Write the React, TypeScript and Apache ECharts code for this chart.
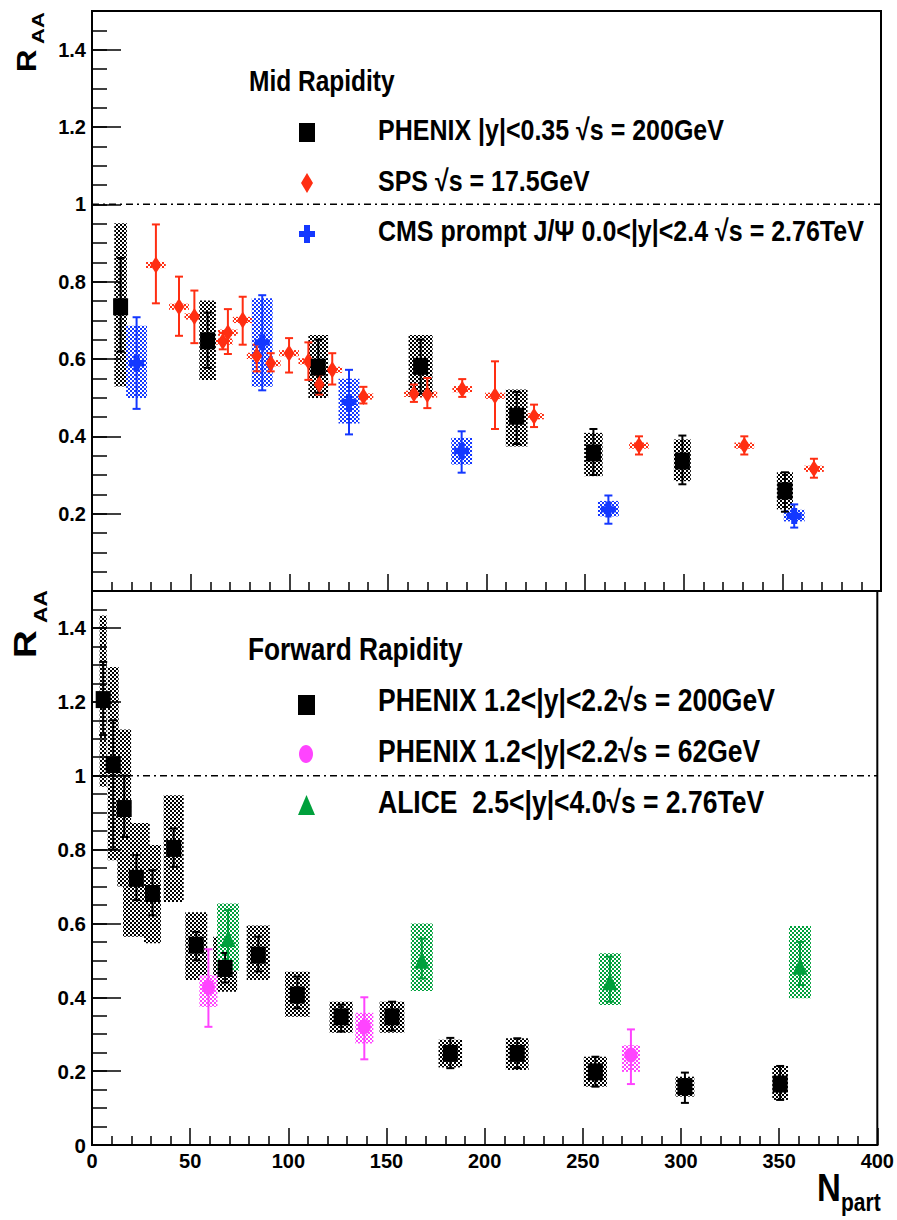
import React, { useEffect, useRef } from "react";
import * as echarts from "echarts";

const FONT = '"Liberation Sans", Arial, Helvetica, sans-serif';

// ---------- Mid rapidity ----------
// PHENIX |y|<0.35, 200 GeV
const phenixMidNpart = [14.5, 58.6, 114.7, 166.6, 215.3, 254.2, 299.3, 351.3];
const phenixMidRaa = [0.735, 0.647, 0.579, 0.581, 0.452, 0.357, 0.336, 0.259];
const phenixMidStatLo = [0.619, 0.577, 0.513, 0.51, 0.38, 0.3, 0.276, 0.205];
const phenixMidStatHi = [0.861, 0.72, 0.65, 0.65, 0.515, 0.419, 0.402, 0.307];
const phenixMidSysLo = [0.529, 0.546, 0.499, 0.503, 0.374, 0.297, 0.284, 0.211];
const phenixMidSysHi = [0.951, 0.751, 0.662, 0.662, 0.521, 0.409, 0.392, 0.307];
const phenixMidNpartErr = [3.2, 4.2, 5.0, 6.1, 5.5, 4.7, 4.3, 4.1];

// SPS, 17.5 GeV
const spsNpart = [32.4, 44.1, 51.9, 66.3, 68.9, 76.4, 83.5, 90.6, 99.9, 109.7, 115.2, 121.8, 137.6, 163.2, 170.0, 187.7, 204.3, 224.1, 277.3, 330.7, 366.0];
const spsRaa = [0.843, 0.735, 0.71, 0.645, 0.668, 0.701, 0.608, 0.589, 0.615, 0.594, 0.534, 0.572, 0.503, 0.51, 0.508, 0.522, 0.505, 0.452, 0.376, 0.376, 0.316];
const spsStatLo = [0.744, 0.66, 0.641, 0.625, 0.613, 0.637, 0.568, 0.568, 0.565, 0.546, 0.508, 0.534, 0.485, 0.489, 0.473, 0.502, 0.419, 0.424, 0.353, 0.353, 0.293];
const spsStatHi = [0.948, 0.813, 0.777, 0.668, 0.729, 0.761, 0.637, 0.615, 0.654, 0.643, 0.559, 0.615, 0.528, 0.534, 0.551, 0.548, 0.594, 0.482, 0.4, 0.4, 0.342];
const spsSysHalf = 0.008;
const spsNpartErr = 5;

// CMS prompt J/psi 0.0<|y|<2.4, 2.76 TeV
const cmsNpart = [22.6, 86.3, 130.3, 187.4, 261.8, 356.0];
const cmsRaa = [0.589, 0.643, 0.489, 0.362, 0.211, 0.194];
const cmsStatLo = [0.471, 0.519, 0.405, 0.306, 0.174, 0.164];
const cmsStatHi = [0.708, 0.765, 0.572, 0.413, 0.247, 0.224];
const cmsSysLo = [0.499, 0.528, 0.433, 0.327, 0.193, 0.18];
const cmsSysHi = [0.686, 0.757, 0.549, 0.396, 0.233, 0.21];
const cmsNpartErr = 5.3;

// ---------- Forward rapidity ----------
// PHENIX 1.2<|y|<2.2, 200 GeV
const phenixFwdNpart = [5.7, 10.8, 16.4, 22.6, 30.8, 41.6, 53.1, 67.8, 84.7, 104.6, 126.9, 152.8, 182.5, 216.6, 256.4, 302.0, 350.5];
const phenixFwdRaa = [1.206, 1.03, 0.911, 0.722, 0.681, 0.803, 0.541, 0.478, 0.514, 0.406, 0.347, 0.347, 0.248, 0.248, 0.198, 0.158, 0.165];
const phenixFwdStatLo = [1.11, 0.8, 0.834, 0.663, 0.622, 0.753, 0.5, 0.44, 0.47, 0.37, 0.307, 0.31, 0.208, 0.208, 0.158, 0.114, 0.122];
const phenixFwdStatHi = [1.308, 1.15, 1.0, 0.785, 0.744, 0.857, 0.577, 0.52, 0.564, 0.456, 0.38, 0.388, 0.29, 0.289, 0.239, 0.196, 0.214];
const phenixFwdSysLo = [0.97, 0.771, 0.7, 0.564, 0.546, 0.658, 0.447, 0.415, 0.447, 0.347, 0.304, 0.304, 0.21, 0.203, 0.158, 0.131, 0.122];
const phenixFwdSysHi = [1.434, 1.294, 1.125, 0.872, 0.812, 0.947, 0.63, 0.564, 0.594, 0.469, 0.388, 0.388, 0.285, 0.289, 0.239, 0.185, 0.214];
const phenixFwdNpartErr = [1.8, 2.8, 3.5, 6.8, 4.3, 5.1, 5.6, 6.1, 5.9, 6.3, 5.9, 6.3, 6.0, 5.8, 5.9, 4.8, 4.0];

// PHENIX 1.2<|y|<2.2, 62 GeV
const phenix62Npart = [59.3, 138.7, 274.5];
const phenix62Raa = [0.427, 0.32, 0.244];
const phenix62StatLo = [0.32, 0.232, 0.165];
const phenix62StatHi = [0.53, 0.4, 0.313];
const phenix62SysLo = [0.374, 0.275, 0.198];
const phenix62SysHi = [0.46, 0.358, 0.27];
const phenix62NpartErr = 4.6;

// ALICE 2.5<|y|<4.0, 2.76 TeV
const aliceNpart = [69.3, 168.0, 263.8, 360.6];
const aliceRaa = [0.559, 0.5, 0.442, 0.484];
const aliceStatLo = [0.499, 0.451, 0.388, 0.433];
const aliceStatHi = [0.636, 0.559, 0.51, 0.55];
const aliceSysLo = [0.472, 0.417, 0.379, 0.397];
const aliceSysHi = [0.654, 0.6, 0.519, 0.593];
const aliceNpartErr = 5.6;

const yTickValues = [0, 0.2, 0.4, 0.6, 0.8, 1, 1.2, 1.4];
const xTickValues = [0, 50, 100, 150, 200, 250, 300, 350, 400];
const UNITY = 1;

const C_BLACK = "#000000";
const C_RED = "#ff2e12";
const C_BLUE = "#1438ff";
const C_MAGENTA = "#ff44ff";
const C_GREEN = "#00a03c";

type Rows = number[][];

function rows(
  npart: number[],
  raa: number[],
  sLo: number[],
  sHi: number[],
  yLo: number[],
  yHi: number[],
  xErr: number[] | number
): Rows {
  return npart.map((n, i) => [
    n,
    raa[i],
    sLo[i],
    sHi[i],
    yLo[i],
    yHi[i],
    Array.isArray(xErr) ? xErr[i] : xErr,
  ]);
}

function hatch(color: string) {
  const c = document.createElement("canvas");
  c.width = 4;
  c.height = 4;
  const g = c.getContext("2d")!;
  g.fillStyle = color;
  g.fillRect(0, 0, 2, 2);
  g.fillRect(2, 2, 2, 2);
  return { image: c, repeat: "repeat" } as any;
}

const DIMS = ["npart", "raa", "statLo", "statHi", "sysLo", "sysHi", "npartErr"];

function boxSeries(data: Rows, fill: any, xi: number, yi: number) {
  return {
    type: "custom",
    xAxisIndex: xi,
    yAxisIndex: yi,
    dimensions: DIMS,
    encode: { x: 0, y: 1 },
    silent: true,
    data,
    renderItem: (_p: any, api: any) => {
      const x = api.value(0);
      const hw = api.value(6);
      const a = api.coord([x - hw, api.value(5)]);
      const b = api.coord([x + hw, api.value(4)]);
      return {
        type: "rect",
        shape: { x: a[0], y: a[1], width: b[0] - a[0], height: b[1] - a[1] },
        style: { fill },
      };
    },
  };
}

function errSeries(data: Rows, color: string, xi: number, yi: number) {
  return {
    type: "custom",
    xAxisIndex: xi,
    yAxisIndex: yi,
    dimensions: DIMS,
    encode: { x: 0, y: 1 },
    silent: true,
    data,
    renderItem: (_p: any, api: any) => {
      const x = api.value(0);
      const t = api.coord([x, api.value(3)]);
      const b = api.coord([x, api.value(2)]);
      const cap = 4;
      const st = { stroke: color, lineWidth: 2 };
      return {
        type: "group",
        children: [
          { type: "line", shape: { x1: t[0], y1: t[1], x2: b[0], y2: b[1] }, style: st },
          { type: "line", shape: { x1: t[0] - cap, y1: t[1], x2: t[0] + cap, y2: t[1] }, style: st },
          { type: "line", shape: { x1: b[0] - cap, y1: b[1], x2: b[0] + cap, y2: b[1] }, style: st },
        ],
      };
    },
  };
}

function markerSeries(data: Rows, color: string, symbol: string, size: number[], xi: number, yi: number) {
  return {
    type: "scatter",
    xAxisIndex: xi,
    yAxisIndex: yi,
    dimensions: DIMS,
    encode: { x: 0, y: 1 },
    data,
    symbol,
    symbolSize: size,
    itemStyle: { color, opacity: 1 },
    silent: true,
  };
}

function unitySeries(xi: number, yi: number) {
  return {
    type: "line",
    xAxisIndex: xi,
    yAxisIndex: yi,
    data: [
      [xTickValues[0], UNITY],
      [xTickValues[xTickValues.length - 1], UNITY],
    ],
    symbol: "none",
    silent: true,
    lineStyle: { color: "#000", width: 1.5, type: [7, 4, 2, 4] },
  };
}

const CROSS = "path://M3,0 H7 V3 H10 V7 H7 V10 H3 V7 H0 V3 H3 Z";

function xAxis(gridIndex: number, showLabels: boolean) {
  return {
    type: "value",
    gridIndex,
    position: "bottom",
    min: xTickValues[0],
    max: xTickValues[xTickValues.length - 1],
    interval: 50,
    axisLine: { show: true, lineStyle: { color: "#000", width: 2 } },
    axisTick: { show: true, inside: true, length: 17, lineStyle: { color: "#000", width: 1.5 } },
    minorTick: { show: true, splitNumber: 5, length: 9, lineStyle: { color: "#000", width: 1.5 } },
    splitLine: { show: false },
    minorSplitLine: { show: false },
    axisLabel: {
      show: showLabels,
      color: "#000",
      fontFamily: FONT,
      fontWeight: "bold",
      fontSize: 20,
      margin: 6,
      showMinLabel: true,
      showMaxLabel: true,
      formatter: (v: number) => (xTickValues.includes(v) ? String(v) : ""),
    },
  };
}

function yAxisMajor(gridIndex: number, showZero: boolean, fontSize: number) {
  return {
    type: "value",
    gridIndex,
    position: "left",
    min: 0,
    max: 1.5,
    interval: 0.2,
    axisLine: { show: true, lineStyle: { color: "#000", width: 2 } },
    axisTick: { show: true, inside: true, length: 29, lineStyle: { color: "#000", width: 1.5 } },
    splitLine: { show: false },
    axisLabel: {
      color: "#000",
      fontFamily: FONT,
      fontWeight: "bold",
      fontSize,
      margin: 6,
      showMinLabel: true,
      showMaxLabel: true,
      formatter: (v: number) => {
        const r = Math.round(v * 100) / 100;
        if (!yTickValues.includes(r)) return "";
        if (r === 0 && !showZero) return "";
        return String(r);
      },
    },
  };
}

function yAxisMinor(gridIndex: number) {
  return {
    type: "value",
    gridIndex,
    position: "left",
    offset: 0,
    min: 0,
    max: 1.5,
    interval: 0.05,
    axisLine: { show: false },
    axisTick: { show: true, inside: true, length: 15, lineStyle: { color: "#000", width: 1.5 } },
    splitLine: { show: false },
    axisLabel: { show: false },
  };
}

function legendText(x: number, y: number, text: string, size: number) {
  return {
    type: "text",
    x,
    y,
    scaleY: 1.2,
    silent: true,
    style: {
      text,
      fill: "#000",
      font: `bold ${size}px ${FONT}`,
      fontSize: size,
      fontWeight: "bold",
      fontFamily: FONT,
      align: "left",
      textAlign: "left",
      verticalAlign: "middle",
      textVerticalAlign: "middle",
    },
  };
}

function rotText(x: number, y: number, text: string, size: number, stretch: number) {
  return {
    type: "text",
    x,
    y,
    rotation: Math.PI / 2,
    scaleX: stretch,
    silent: true,
    style: {
      text,
      fill: "#000",
      font: `bold ${size}px ${FONT}`,
      fontSize: size,
      fontWeight: "bold",
      fontFamily: FONT,
      align: "left",
      textAlign: "left",
      verticalAlign: "middle",
      textVerticalAlign: "middle",
    },
  };
}

export default function App() {
  const ref = useRef<HTMLDivElement>(null);

  useEffect(() => {
    if (!ref.current) return;
    const chart = echarts.init(ref.current, undefined, { renderer: "svg" });

    const midPhenix = rows(phenixMidNpart, phenixMidRaa, phenixMidStatLo, phenixMidStatHi, phenixMidSysLo, phenixMidSysHi, phenixMidNpartErr);
    const sps = rows(
      spsNpart,
      spsRaa,
      spsStatLo,
      spsStatHi,
      spsRaa.map((r) => r - spsSysHalf),
      spsRaa.map((r) => r + spsSysHalf),
      spsNpartErr
    );
    const cms = rows(cmsNpart, cmsRaa, cmsStatLo, cmsStatHi, cmsSysLo, cmsSysHi, cmsNpartErr);
    const fwdPhenix = rows(phenixFwdNpart, phenixFwdRaa, phenixFwdStatLo, phenixFwdStatHi, phenixFwdSysLo, phenixFwdSysHi, phenixFwdNpartErr);
    const p62 = rows(phenix62Npart, phenix62Raa, phenix62StatLo, phenix62StatHi, phenix62SysLo, phenix62SysHi, phenix62NpartErr);
    const alice = rows(aliceNpart, aliceRaa, aliceStatLo, aliceStatHi, aliceSysLo, aliceSysHi, aliceNpartErr);

    const option: any = {
      animation: false,
      backgroundColor: "#fff",
      grid: [
        { left: 92, top: 11, width: 789, height: 580, show: true, borderColor: "#000", borderWidth: 2, backgroundColor: "transparent" },
        { left: 92, top: 591, width: 789, height: 554, show: true, borderColor: "#000", borderWidth: 2, backgroundColor: "transparent" },
      ],
      xAxis: [xAxis(0, false), xAxis(1, true)],
      yAxis: [yAxisMajor(0, false, 20), yAxisMinor(0), yAxisMajor(1, true, 20.5), yAxisMinor(1)],
      series: [
        unitySeries(0, 0),
        unitySeries(1, 2),
        // systematic boxes
        boxSeries(sps, hatch(C_RED), 0, 0),
        boxSeries(midPhenix, hatch(C_BLACK), 0, 0),
        boxSeries(cms, hatch(C_BLUE), 0, 0),
        boxSeries(fwdPhenix, hatch(C_BLACK), 1, 2),
        boxSeries(p62, hatch(C_MAGENTA), 1, 2),
        boxSeries(alice, hatch(C_GREEN), 1, 2),
        // statistical errors
        errSeries(sps, C_RED, 0, 0),
        errSeries(midPhenix, C_BLACK, 0, 0),
        errSeries(cms, C_BLUE, 0, 0),
        errSeries(fwdPhenix, C_BLACK, 1, 2),
        errSeries(p62, C_MAGENTA, 1, 2),
        errSeries(alice, C_GREEN, 1, 2),
        // markers
        markerSeries(sps, C_RED, "diamond", [11, 17], 0, 0),
        markerSeries(midPhenix, C_BLACK, "rect", [15, 17], 0, 0),
        markerSeries(cms, C_BLUE, CROSS, [15, 16], 0, 0),
        markerSeries(fwdPhenix, C_BLACK, "rect", [15, 17], 1, 2),
        markerSeries(p62, C_MAGENTA, "circle", [13, 15], 1, 2),
        markerSeries(alice, C_GREEN, "triangle", [15, 17], 1, 2),
      ],
      graphic: [
        // axis titles
        rotText(27, 72, "R", 27, 1.15),
        rotText(38, 44, "AA", 17, 1.3),
        rotText(25, 658, "R", 32, 1.2),
        rotText(40, 623, "AA", 19, 1.2),
        legendText(817, 1187, "N", 33),
        legendText(841, 1202, "part", 21),
        // mid rapidity legend
        legendText(249, 81, "Mid Rapidity", 24.5),
        { type: "rect", silent: true, shape: { x: 299, y: 123, width: 16, height: 19 }, style: { fill: C_BLACK } },
        legendText(378, 130, "PHENIX |y|<0.35 \u221As = 200GeV", 25),
        { type: "polygon", silent: true, shape: { points: [[307, 173], [313, 183], [307, 193], [301, 183]] }, style: { fill: C_RED } },
        legendText(378, 181, "SPS \u221As = 17.5GeV", 25),
        {
          type: "polygon",
          silent: true,
          shape: {
            points: [
              [304, 225], [310, 225], [310, 231], [315, 231], [315, 237], [310, 237],
              [310, 243], [304, 243], [304, 237], [299, 237], [299, 231], [304, 231],
            ],
          },
          style: { fill: C_BLUE },
        },
        legendText(378, 231, "CMS prompt J/\u03A8 0.0<|y|<2.4 \u221As = 2.76TeV", 25),
        // forward rapidity legend
        legendText(248, 649, "Forward Rapidity", 26.3),
        { type: "rect", silent: true, shape: { x: 298, y: 695, width: 17, height: 20 }, style: { fill: C_BLACK } },
        legendText(378, 700, "PHENIX 1.2<|y|<2.2\u221As = 200GeV", 26.5),
        { type: "ellipse", silent: true, shape: { cx: 306, cy: 754, rx: 7, ry: 9 }, style: { fill: C_MAGENTA } },
        legendText(378, 751, "PHENIX 1.2<|y|<2.2\u221As = 62GeV", 26.5),
        { type: "polygon", silent: true, shape: { points: [[306.5, 795], [315, 815], [298, 815]] }, style: { fill: C_GREEN } },
        legendText(378, 802, "ALICE  2.5<|y|<4.0\u221As = 2.76TeV", 26.5),
      ],
    };

    chart.setOption(option);
    return () => chart.dispose();
  }, []);

  return (
    <div
      ref={ref}
      style={{ position: "absolute", left: 0, top: 0, width: 897, height: 1220, background: "#fff" }}
    />
  );
}
